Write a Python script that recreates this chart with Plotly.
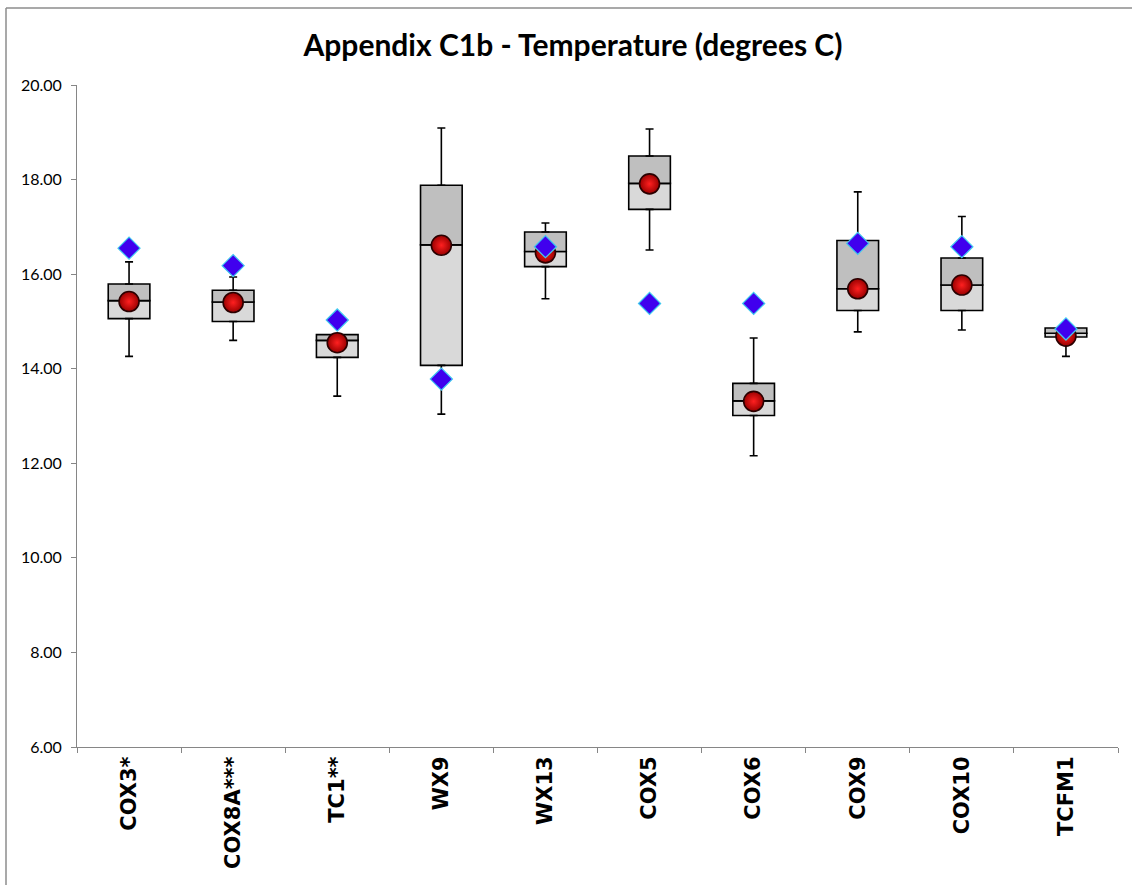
import plotly.graph_objects as go

categories = ["COX3*", "COX8A***", "TC1**", "WX9", "WX13", "COX5", "COX6", "COX9", "COX10", "TCFM1"]
whisker_low = [14.26, 14.60, 13.42, 13.04, 15.48, 16.51, 12.16, 14.78, 14.82, 14.26]
q1 = [15.06, 15.00, 14.24, 14.07, 16.16, 17.37, 13.01, 15.23, 15.23, 14.67]
median = [15.44, 15.41, 14.60, 16.62, 16.48, 17.92, 13.32, 15.69, 15.77, 14.75]
q3 = [15.79, 15.66, 14.72, 17.88, 16.89, 18.50, 13.69, 16.71, 16.34, 14.86]
whisker_high = [16.26, 15.94, 14.72, 19.09, 17.08, 19.07, 14.65, 17.74, 17.22, 14.86]
mean_vals = [15.42, 15.40, 14.55, 16.61, 16.45, 17.91, 13.31, 15.69, 15.77, 14.69]
diamond_vals = [16.55, 16.18, 15.03, 13.78, 16.58, 15.38, 15.38, 16.65, 16.58, 14.84]
y_ticks = [6, 8, 10, 12, 14, 16, 18, 20]

W, H = 1132, 885
ML, MR, MT, MB = 77, 14, 85, 138

fig = go.Figure()

# lower half of box
fig.add_trace(go.Bar(
    x=categories, y=[m - a for m, a in zip(median, q1)], base=q1, width=0.4,
    marker=dict(color="#D9D9D9", line=dict(color="black", width=1.6)),
    hoverinfo="skip", showlegend=False))
# upper half of box
fig.add_trace(go.Bar(
    x=categories, y=[b - m for b, m in zip(q3, median)], base=median, width=0.4,
    marker=dict(color="#BFBFBF", line=dict(color="black", width=1.6)),
    hoverinfo="skip", showlegend=False))

# whiskers
fig.add_trace(go.Scatter(
    x=categories, y=q3, mode="markers", marker=dict(opacity=0, size=1),
    error_y=dict(type="data", symmetric=False,
                 array=[h - b for h, b in zip(whisker_high, q3)],
                 arrayminus=[0] * len(q3), color="black", thickness=1.6, width=4),
    hoverinfo="skip", showlegend=False))
fig.add_trace(go.Scatter(
    x=categories, y=q1, mode="markers", marker=dict(opacity=0, size=1),
    error_y=dict(type="data", symmetric=False,
                 array=[0] * len(q1),
                 arrayminus=[a - l for a, l in zip(q1, whisker_low)],
                 color="black", thickness=1.6, width=4),
    hoverinfo="skip", showlegend=False))

# red spheres
fig.add_trace(go.Scatter(
    x=categories, y=mean_vals, mode="markers",
    marker=dict(symbol="circle", size=20, color="#9A0000",
                gradient=dict(type="radial", color="#FF2020"),
                line=dict(color="#2A0000", width=1.6)),
    hoverinfo="skip", showlegend=False))

# blue diamonds
fig.add_trace(go.Scatter(
    x=categories, y=diamond_vals, mode="markers",
    marker=dict(symbol="diamond", size=17, color="#4000EE",
                line=dict(color="#3FC8F0", width=1.2)),
    hoverinfo="skip", showlegend=False))

pw = W - ML - MR
ph = H - MT - MB


def px_x(p):
    return (p - ML) / pw


def px_y(p):
    return (H - MB - p) / ph


fig.add_shape(type="line", xref="paper", yref="paper",
              x0=px_x(6), x1=px_x(1200), y0=px_y(8), y1=px_y(8),
              line=dict(color="#8C8C8C", width=1.5))
fig.add_shape(type="line", xref="paper", yref="paper",
              x0=px_x(6), x1=px_x(6), y0=px_y(8), y1=px_y(950),
              line=dict(color="#8C8C8C", width=1.5))

fig.update_layout(
    width=W, height=H,
    margin=dict(l=ML, r=MR, t=MT, b=MB),
    paper_bgcolor="white", plot_bgcolor="white",
    barmode="overlay",
    title=dict(text="<b>Appendix C1b - Temperature (degrees C)</b>",
               x=573 / W, xanchor="center", y=1 - 45 / H, yanchor="middle",
               xref="container", yref="container",
               font=dict(family="Lato", size=30, color="black")),
    xaxis=dict(type="category", range=[-0.5, 9.5], showline=True,
               linecolor="#868686", linewidth=1, ticks="outside",
               tickson="boundaries", ticklen=5, tickcolor="#868686",
               tickangle=-90, showgrid=False, zeroline=False,
               tickfont=dict(family="DejaVu Sans", size=21, color="black",
                             weight="bold")),
    yaxis=dict(range=[6, 20], tickvals=y_ticks, tickformat=".2f",
               showline=True, linecolor="#868686", linewidth=1,
               ticks="outside", ticklen=5, tickcolor="#868686",
               ticklabelstandoff=6,
               showgrid=False, zeroline=False,
               tickfont=dict(family="Lato", size=16, color="black")),
)

fig.write_html("out.html")
